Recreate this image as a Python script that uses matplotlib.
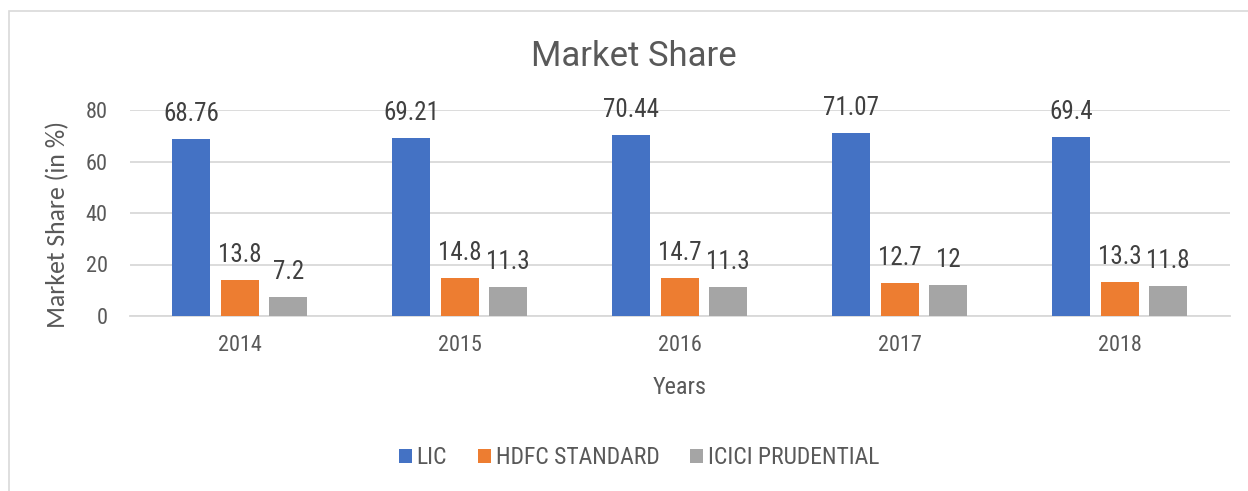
import matplotlib
matplotlib.use("Agg")
import matplotlib.pyplot as plt
import numpy as np
from matplotlib.patches import Rectangle

years = ["2014", "2015", "2016", "2017", "2018"]
series_names = ["LIC", "HDFC STANDARD", "ICICI PRUDENTIAL"]
lic = [68.76, 69.21, 70.44, 71.07, 69.4]
hdfc = [13.8, 14.8, 14.7, 12.7, 13.3]
icici = [7.2, 11.3, 11.3, 12, 11.8]
lic_labels = ["68.76", "69.21", "70.44", "71.07", "69.4"]
hdfc_labels = ["13.8", "14.8", "14.7", "12.7", "13.3"]
icici_labels = ["7.2", "11.3", "11.3", "12", "11.8"]
colors = ["#4472C4", "#ED7D31", "#A5A5A5"]
text_color = "#595959"

plt.rcParams['font.family'] = ['Roboto Condensed', 'Liberation Sans Narrow', 'Lato', 'DejaVu Sans']

fig = plt.figure(figsize=(12.48, 4.91), dpi=100)
fig.patch.set_facecolor("white")
fig.patches.append(Rectangle((9/1248, -0.1), 1.2, 1 - 11/491 + 0.1, transform=fig.transFigure,
                             fill=False, edgecolor="#d9d9d9", linewidth=1.2))

ax = fig.add_axes([130/1248, 1 - 316/491, 1100/1248, 206/491])
x = np.arange(len(years))
w = 0.173
offsets = [-0.221, 0.0, 0.219]
data = [lic, hdfc, icici]
labels = [lic_labels, hdfc_labels, icici_labels]
for i in range(3):
    bars = ax.bar(x + offsets[i], data[i], width=w, color=colors[i], label=series_names[i], zorder=3)
    for b, lab in zip(bars, labels[i]):
        ax.annotate(lab, (b.get_x() + b.get_width() / 2, b.get_height()),
                    xytext=(0, 13), textcoords="offset points", ha="center", va="baseline",
                    fontsize=18, color="#404040", zorder=4)

ax.set_xlim(-0.5, len(years) - 0.5)
ax.set_ylim(0, 80)
ax.set_yticks([0, 20, 40, 60, 80])
ax.set_xticks(x)
ax.set_xticklabels(years)
ax.yaxis.grid(True, color="#d9d9d9", linewidth=1.3, zorder=0)
ax.set_axisbelow(True)
for s in ["top", "right", "left"]:
    ax.spines[s].set_visible(False)
ax.spines["bottom"].set_color("#d9d9d9")
ax.spines["bottom"].set_linewidth(1.3)
ax.tick_params(axis="both", length=0, labelsize=16, colors=text_color)
ax.tick_params(axis="y", pad=16)
ax.tick_params(axis="x", pad=14)

ax.set_ylabel("Market Share (in %)", fontsize=18.5, color=text_color, va="center",
              family=["Carlito", "DejaVu Sans"])
ax.yaxis.set_label_coords((58 - 130) / 1100, (316 - 224) / 206)
ax.set_xlabel("Years", fontsize=17.5, color=text_color, va="center")
ax.xaxis.set_label_coords((680 - 130) / 1100, (316 - 387) / 206)
fig.text(634/1248, 1 - 57/491, "Market Share", fontsize=25, color=text_color, ha="center", va="center",
         family=["Roboto", "DejaVu Sans"])

fig.legend(loc="center", bbox_to_anchor=(639/1248, 1 - 458/491), ncol=3, frameon=False,
           fontsize=17, labelcolor=text_color, handlelength=0.55, handleheight=0.55,
           handletextpad=0.2, columnspacing=1.3)

fig.savefig("out.png", dpi=100)
